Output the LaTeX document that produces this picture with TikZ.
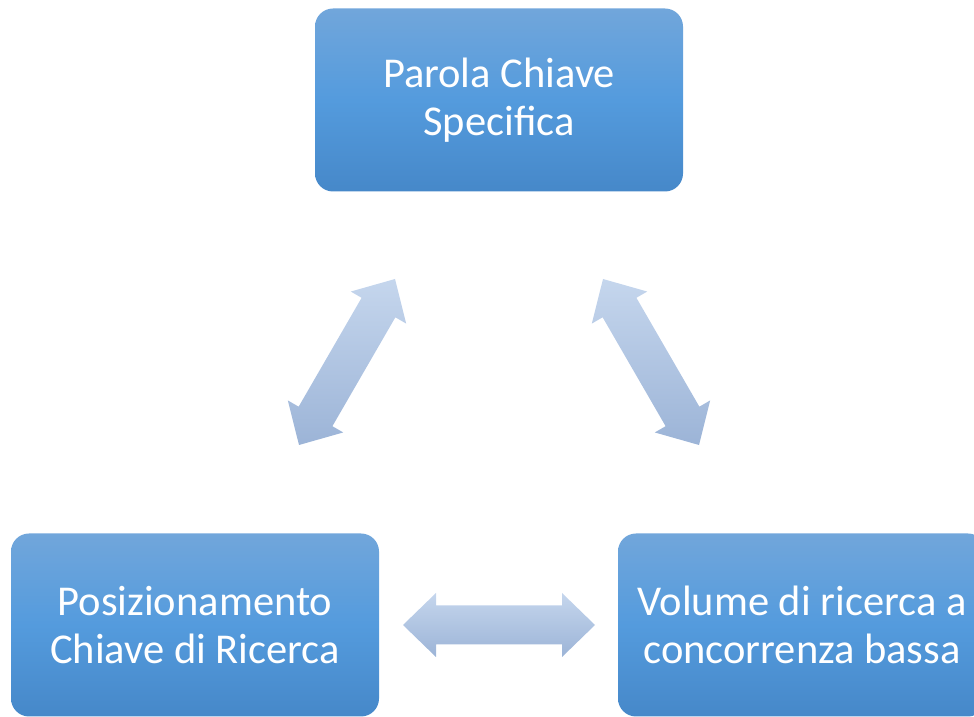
\documentclass[tikz,border=0pt]{standalone}
\usepackage{fontspec}
\setmainfont{Carlito}
\usetikzlibrary{calc}
\definecolor{boxtop}{RGB}{113,166,219}
\definecolor{boxmid}{RGB}{84,155,221}
\definecolor{boxbot}{RGB}{70,136,201}
\definecolor{arrtop}{RGB}{197,214,237}
\definecolor{arrbot}{RGB}{156,180,215}
\tikzset{
	keybox/.style={rounded corners=18pt, minimum width=368pt, minimum height=183pt,
		inner sep=0pt, align=center, text=white, font=\fontsize{42.5}{48}\selectfont,
		top color=boxtop, bottom color=boxbot, middle color=boxmid},
	fatarrow/.style={top color=arrtop, bottom color=arrbot}
}
\begin{document}
\begin{tikzpicture}[x=1pt,y=1pt]
		\clip (0,0) rectangle (974,717);
		% boxes
		\node[keybox] (parola) at (499,617) {Parola Chiave\\Specifica};
		\node[keybox] (posiz) at (195,92) {Posizionamento\\Chiave di Ricerca};
		\node[keybox] (volume) at (802,92) {Volume di ricerca a\\concorrenza bassa};
		
		% arrow ends
		\coordinate (l1) at (395,438); \coordinate (l2) at (299,272);
		\coordinate (r1) at (603,438); \coordinate (r2) at (699,272);
		\coordinate (h1) at (403,92); \coordinate (h2) at (595,92);
		
		% arrows
		\foreach \a/\b in {l1/l2,r1/r2,h1/h2} % double arrows
		\shade[fatarrow] (\a) -- ($(\a)!33pt!(\b)!32pt!90:(\b)$) -- ($(\a)!33pt!(\b)!19.5pt!90:(\b)$)
			-- ($(\b)!33pt!(\a)!19.5pt!-90:(\a)$) -- ($(\b)!33pt!(\a)!32pt!-90:(\a)$) -- (\b)
			-- ($(\b)!33pt!(\a)!32pt!90:(\a)$) -- ($(\b)!33pt!(\a)!19.5pt!90:(\a)$)
			-- ($(\a)!33pt!(\b)!19.5pt!-90:(\b)$) -- ($(\a)!33pt!(\b)!32pt!-90:(\b)$) -- cycle;
\end{tikzpicture}
\end{document}
